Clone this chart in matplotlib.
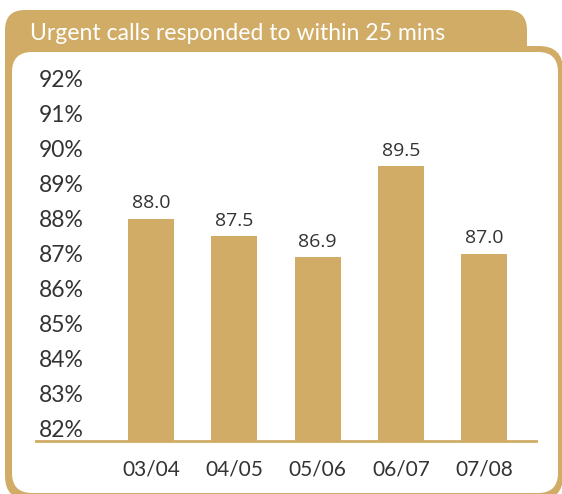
import matplotlib
matplotlib.use("Agg")
import matplotlib.pyplot as plt
from matplotlib.patches import FancyBboxPatch

years = ["03/04", "04/05", "05/06", "06/07", "07/08"]
pct = [88.0, 87.5, 86.9, 89.5, 87.0]
yticks = [82, 83, 84, 85, 86, 87, 88, 89, 90, 91, 92]

GOLD = "#D0AC66"
TXT = "#333333"
W, H = 562, 494

fig = plt.figure(figsize=(W / 100, H / 100), dpi=100)

# background frame, drawn in pixel units
bg = fig.add_axes([0, 0, 1, 1])
bg.set_xlim(0, W)
bg.set_ylim(H, 0)
bg.axis("off")
bg.add_patch(FancyBboxPatch((5, 10), 522, 90, boxstyle="round,pad=0,rounding_size=20",
                            fc=GOLD, ec="none"))
bg.add_patch(FancyBboxPatch((5, 46), 558, 454, boxstyle="round,pad=0,rounding_size=24",
                            fc=GOLD, ec="none"))
bg.add_patch(FancyBboxPatch((12, 52), 546, 441, boxstyle="round,pad=0,rounding_size=20",
                            fc="white", ec="none"))
bg.text(30, 34, "Urgent calls responded to within 25 mins", color="white",
        fontsize=16.6, family="Lato", va="center", ha="left")

# chart area
ax = fig.add_axes([36 / W, (H - 441) / H, 500 / W, (441 - 60) / H])
ax.patch.set_alpha(0)
x = list(range(len(years)))
ax.bar(x, pct, width=0.55, color=GOLD, bottom=0)
ax.set_xlim(-1.38, 4.62)
ax.set_ylim(81.643, 92.53)

for xi, v in zip(x, pct):
    ax.annotate(f"{v:.1f}", (xi, v), xytext=(0, 4.5), textcoords="offset points",
                ha="center", va="bottom", fontsize=14, color=TXT, family="Open Sans")

ax.set_yticks(yticks)
ax.set_yticklabels([f"{t}%" for t in yticks], fontsize=16.5, color=TXT, family="Lato")
for lab in ax.get_yticklabels():
    lab.set_ha("left")
ax.tick_params(axis="y", length=0, pad=-2)

ax.set_xticks(x)
ax.set_xticklabels(years, fontsize=15, color=TXT, family="Lato")
ax.tick_params(axis="x", length=0, pad=13)

for s in ["top", "right", "left"]:
    ax.spines[s].set_visible(False)
ax.spines["bottom"].set_color(GOLD)
ax.spines["bottom"].set_linewidth(2)

fig.savefig("out.png", dpi=100)
